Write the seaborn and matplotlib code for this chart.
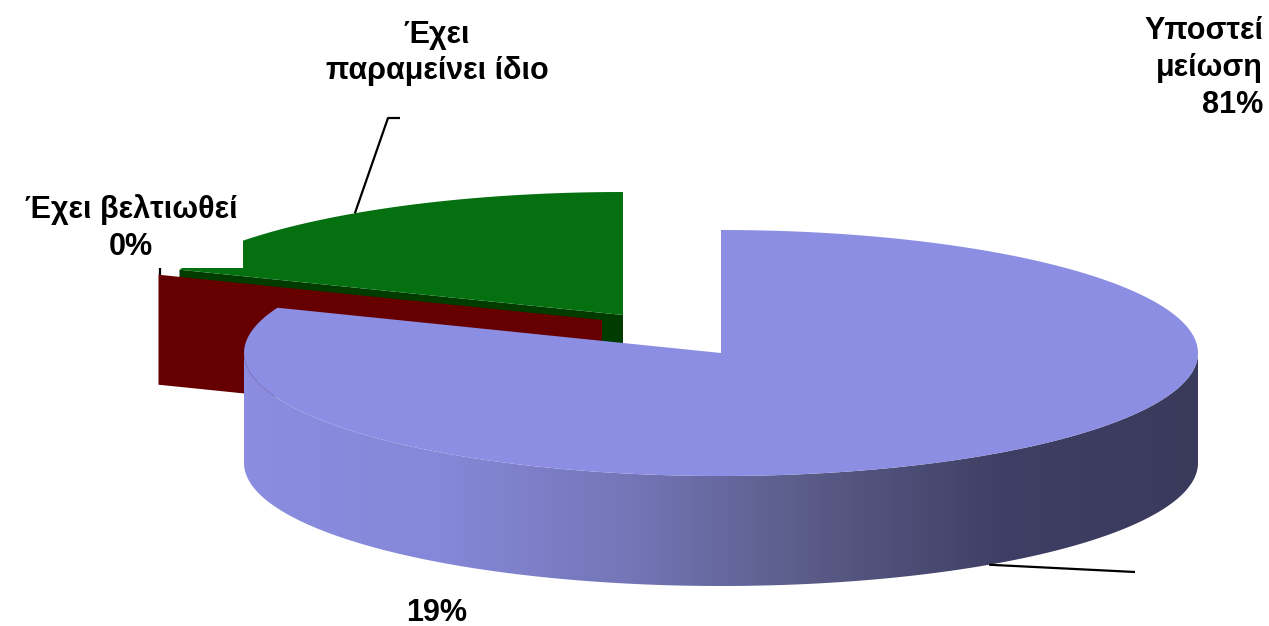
import numpy as np
import matplotlib
matplotlib.use('Agg')
import matplotlib.pyplot as plt
from matplotlib.patches import Polygon
import seaborn as sns

# Data (order as Excel draws it: clockwise from 12 o'clock)
labels = ['Υποστεί μείωση', 'Έχει βελτιωθεί', 'Έχει παραμείνει ίδιο']
values = [81, 0, 19]
top_colors = ['#8b8ee3', '#660000', '#04700f']
side_colors = ['#8b8ee3', '#660000', '#003c00']
# explode offsets of each slice, in pixels (layout only)
explode = [(0, 0), (-119, -33), (-98, -38)]

# Pie geometry, in figure pixels
W, H = 1269, 626
CX, CY = 721, 353
RX, RY = 477, 123
DEPTH = 110

sns.set_theme(style='white')
plt.rcParams['font.family'] = ['Liberation Sans', 'DejaVu Sans']

fig = plt.figure(figsize=(W / 100, H / 100), dpi=100)
ax = fig.add_axes([0, 0, 1, 1])
ax.set_xlim(0, W)
ax.set_ylim(H, 0)
ax.axis('off')


def rim(cx, cy, ang, drop=0):
    a = np.radians(ang)
    return np.column_stack([cx + RX * np.cos(a), cy - RY * np.sin(a) + drop])


# slice angles, clockwise starting at the top
total = sum(values)
starts, ends = [], []
cur = 90.0
for v in values:
    starts.append(cur)
    cur = cur - v / total * 360
    ends.append(cur)

mids = [(s + e) / 2 for s, e in zip(starts, ends)]
centers = [(CX + dx, CY + dy) for dx, dy in explode]

# draw back to front: green, red, purple
for i in [2, 1, 0]:
    cx, cy = centers[i]
    t1, t2 = starts[i], ends[i]
    # radial face on the leading edge (this one faces the viewer on the left)
    if i != 0:
        p = rim(cx, cy, t1)[0]
        face = np.array([[cx, cy], p, p + [0, DEPTH], [cx, cy + DEPTH]])
        ax.add_patch(Polygon(face, closed=True, facecolor=side_colors[i], edgecolor='none', zorder=2 + (3 - i)))
    if i == 0:
        # outer front wall with horizontal shading
        a = np.linspace(180, 360, 200)
        top = rim(cx, cy, a)
        bot = rim(cx, cy, a[::-1], DEPTH)
        wall = Polygon(np.vstack([top, bot]), closed=True, facecolor='none', edgecolor='none', zorder=6)
        ax.add_patch(wall)
        cmap = sns.blend_palette(['#8a8de0', '#8588d8', '#7476b8', '#595b86', '#3f3f65', '#3a3a5d'], n_colors=256, as_cmap=True)
        grad = np.linspace(0, 1, 256).reshape(1, -1)
        im = ax.imshow(grad, cmap=cmap, aspect='auto', extent=[cx - RX, cx + RX, cy + RY + DEPTH + 2, cy - 5],
                       zorder=6, interpolation='bilinear')
        im.set_clip_path(wall)
    # top face
    if abs(t1 - t2) > 0:
        a = np.linspace(t1, t2, 300)
        pts = np.vstack([[cx, cy], rim(cx, cy, a)])
        ax.add_patch(Polygon(pts, closed=True, facecolor=top_colors[i], edgecolor='none', zorder=7 if i == 0 else 4))

ax.set_xlim(0, W)
ax.set_ylim(H, 0)

# leader lines
lc = dict(color='black', lw=1.6, zorder=9, solid_capstyle='butt')
g = rim(*centers[2], mids[2])[0]
ax.plot([g[0], 388, 400], [g[1], 118, 118], **lc)
p = rim(*centers[0], mids[0], DEPTH)[0]
ax.plot([p[0], 1135], [p[1], 572], **lc)
r = rim(*centers[1], mids[1])[0]
ax.plot([r[0] + 2, r[0] + 2], [r[1], r[1] - 9], **lc)

# labels
fs = 22
tk = dict(fontsize=fs, fontweight='bold', color='black', linespacing=1.3, zorder=10)
ax.text(1263, 68, f'{labels[0].replace(" ", chr(10))}\n{values[0]}%', ha='right', va='center', multialignment='right', **tk)
ax.text(437, 53, 'Έχει\nπαραμείνει ίδιο', ha='center', va='center', multialignment='center', **tk)
ax.text(437, 613, f'{values[2]}%', ha='center', va='center', **tk)
ax.text(131, 228, f'{labels[1]}\n{values[1]}%', ha='center', va='center', multialignment='center',
        bbox=dict(boxstyle='square,pad=0.2', facecolor='white', edgecolor='none'), **tk)

fig.savefig('out.png', dpi=100)
